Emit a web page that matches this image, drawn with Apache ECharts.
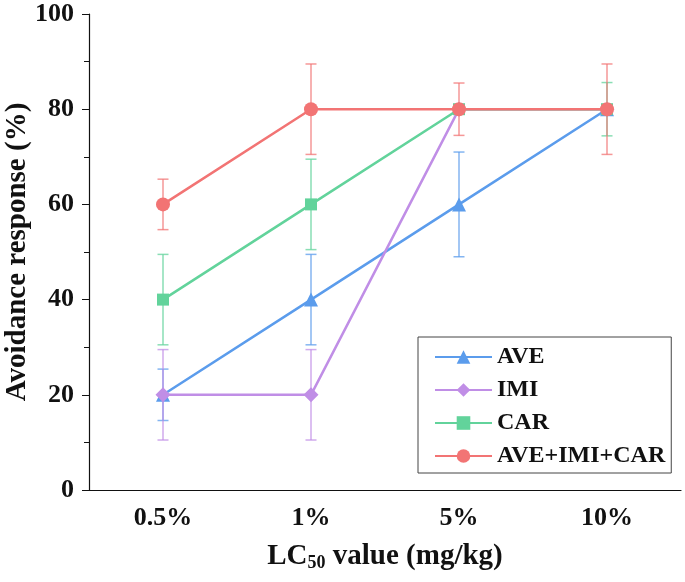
<!DOCTYPE html>
<html><head><meta charset="utf-8">
<script src="https://cdn.jsdelivr.net/npm/echarts@6/dist/echarts.min.js"></script>
<style>html,body{margin:0;padding:0;background:#fff}#c{width:685px;height:582px}</style>
</head><body><div id="c"></div>
<script>
var categories = ['0.5%', '1%', '5%', '10%'];
var seriesNames = ['AVE', 'IMI', 'CAR', 'AVE+IMI+CAR'];
var aveValues = [20, 40, 60, 80];
var aveErrors = [5.4, 9.5, 11, 0];
var imiValues = [20, 20, 80, 80];
var imiErrors = [9.5, 9.5, 0, 0];
var carValues = [40, 60, 80, 80];
var carErrors = [9.5, 9.5, 0, 5.6];
var mixValues = [60, 80, 80, 80];
var mixErrors = [5.3, 9.5, 5.5, 9.5];
var yTicks = [0, 20, 40, 60, 80, 100];

var colors = ['#5B9CEC', '#C08EE6', '#62D39B', '#F27474'];
var errColors = ['rgba(91,156,236,0.75)', 'rgba(192,142,230,0.75)', 'rgba(98,211,155,0.75)', 'rgba(242,116,116,0.75)'];
var symbols = ['triangle', 'diamond', 'rect', 'circle'];
var symbolSizes = [14, 15, 12, 14];
var allValues = [aveValues, imiValues, carValues, mixValues];
var allErrors = [aveErrors, imiErrors, carErrors, mixErrors];
var font = '"Liberation Serif", "Times New Roman", serif';

var series = [];
for (var s = 0; s < 4; s++) {
  (function (s) {
    var errData = allValues[s].map(function (v, i) { return [i, v - allErrors[s][i], v + allErrors[s][i]]; });
    series.push({
      type: 'custom',
      name: seriesNames[s] + ' err',
      z: 2 + s * 2,
      silent: true,
      data: errData,
      renderItem: function (params, api) {
        var x = api.value(0);
        if (api.value(2) - api.value(1) <= 0) return null;
        var lo = api.coord([x, api.value(1)]);
        var hi = api.coord([x, api.value(2)]);
        var hw = 5.5;
        var st = { stroke: errColors[s], lineWidth: 1.5 };
        return {
          type: 'group',
          children: [
            { type: 'line', shape: { x1: lo[0], y1: lo[1], x2: hi[0], y2: hi[1] }, style: st },
            { type: 'line', shape: { x1: lo[0] - hw, y1: lo[1], x2: lo[0] + hw, y2: lo[1] }, style: st },
            { type: 'line', shape: { x1: hi[0] - hw, y1: hi[1], x2: hi[0] + hw, y2: hi[1] }, style: st }
          ]
        };
      }
    });
    series.push({
      type: 'line',
      name: seriesNames[s],
      z: 3 + s * 2,
      data: allValues[s],
      symbol: symbols[s],
      symbolSize: symbolSizes[s],
      showAllSymbol: true,
      lineStyle: { color: colors[s], width: 2.5 },
      itemStyle: { color: colors[s] },
      emphasis: { disabled: true }
    });
  })(s);
}

var chart = echarts.init(document.getElementById('c'), null, { renderer: 'canvas' });
chart.setOption({
  animation: false,
  backgroundColor: '#fff',
  grid: { left: 89, right: 4, top: 14, bottom: 92, containLabel: false, outerBoundsMode: 'none' },
  legend: {
    data: seriesNames,
    orient: 'vertical',
    left: 418,
    top: 337,
    padding: [8, 6, 5, 16],
    borderColor: '#444',
    borderWidth: 1,
    itemWidth: 57,
    itemHeight: 17,
    itemGap: 9,
    textStyle: { fontFamily: font, fontWeight: 'bold', fontSize: 24, color: '#111' }
  },
  xAxis: [{
    type: 'category',
    data: categories,
    boundaryGap: true,
    axisLine: { lineStyle: { color: '#111', width: 1.2 } },
    axisTick: { alignWithLabel: true, length: 7, lineStyle: { color: '#111' } },
    axisLabel: { margin: 15, fontFamily: font, fontWeight: 'bold', fontSize: 26, color: '#111' },
    splitLine: { show: false },
    name: '{a|LC}{s|50}{a| value (mg/kg)}',
    nameLocation: 'middle',
    nameGap: 52,
    nameMoveOverlap: false,
    nameTextStyle: {
      rich: {
        a: { fontFamily: font, fontWeight: 'bold', fontSize: 29, color: '#111' },
        s: { fontFamily: font, fontWeight: 'bold', fontSize: 18, color: '#111', verticalAlign: 'bottom', padding: [12, 0, 0, 0] }
      }
    }
  }, {
    type: 'category',
    data: categories,
    boundaryGap: true,
    position: 'bottom',
    axisLine: { show: false },
    axisTick: { length: 5, lineStyle: { color: '#111' } },
    axisLabel: { show: false },
    splitLine: { show: false }
  }],
  yAxis: {
    type: 'value',
    min: 0,
    max: 100,
    interval: 20,
    axisLine: { show: true, lineStyle: { color: '#111', width: 1.2 } },
    axisTick: { show: true, length: 7, lineStyle: { color: '#111' } },
    minorTick: { show: true, splitNumber: 2, length: 5, lineStyle: { color: '#111' } },
    splitLine: { show: false },
    axisLabel: {
      margin: 15, fontFamily: font, fontWeight: 'bold', fontSize: 26, color: '#111',
      formatter: function (v) { return yTicks.indexOf(v) >= 0 ? String(v) : ''; }
    },
    name: 'Avoidance response (%)',
    nameLocation: 'middle',
    nameGap: 57,
    nameMoveOverlap: false,
    nameTextStyle: { fontFamily: font, fontWeight: 'bold', fontSize: 29, color: '#111' }
  },
  series: series
});
</script>
</body></html>
